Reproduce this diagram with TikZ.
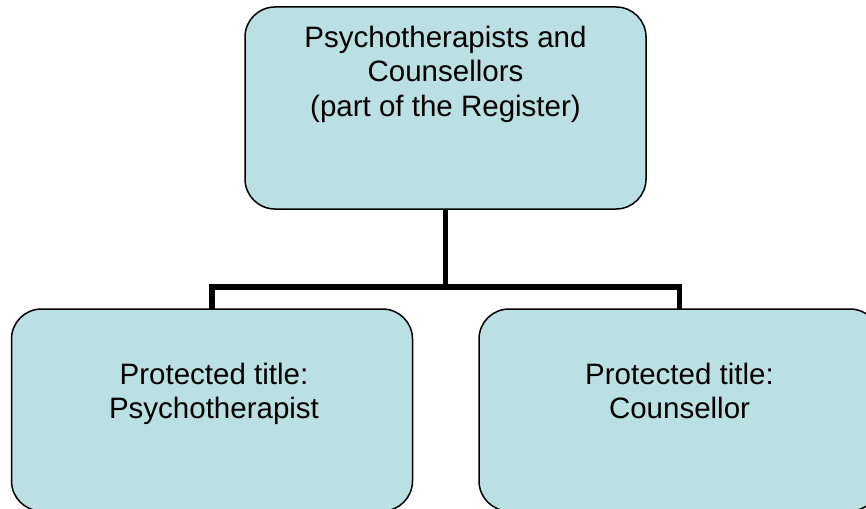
\documentclass[tikz,border=0pt]{standalone}
\usepackage{fontspec}
\setmainfont{Liberation Sans}
\definecolor{boxfill}{RGB}{187,224,227}
\begin{document}
\begin{tikzpicture}[x=1pt,y=-1pt,
  box/.style={draw=black, line width=1.5pt, fill=boxfill, rounded corners=30pt,
    minimum width=401pt, minimum height=202pt, inner sep=0pt, outer sep=0pt},
  lbl/.style={align=center, inner sep=0pt, anchor=north,
    font=\fontsize{29.5}{34.5}\selectfont},
  conn/.style={draw=black, line width=5.5pt, line join=miter, line cap=rect}]
\useasboundingbox (0,0) rectangle (866,508);
\clip (0,0) rectangle (866,508);
\node[box] (top) at (445.5,108) {};
\node[box] (left) at (212,410) {};
\node[box] (right) at (679.5,410) {};
\node[lbl] (toptext) at (445.5,25.5) {Psychotherapists and\\Counsellors\\(part of the Register)};
\node[lbl] (lefttext) at (214,362.5) {Protected title:\\Psychotherapist};
\node[lbl] (righttext) at (679.5,362.5) {Protected title:\\Counsellor};
\coordinate (hub) at (445.5,287);
\draw[conn, line cap=butt] (top.south) -- (hub);
\draw[conn, line cap=butt] (left.north) |- (hub) -| (right.north);
\end{tikzpicture}
\end{document}
